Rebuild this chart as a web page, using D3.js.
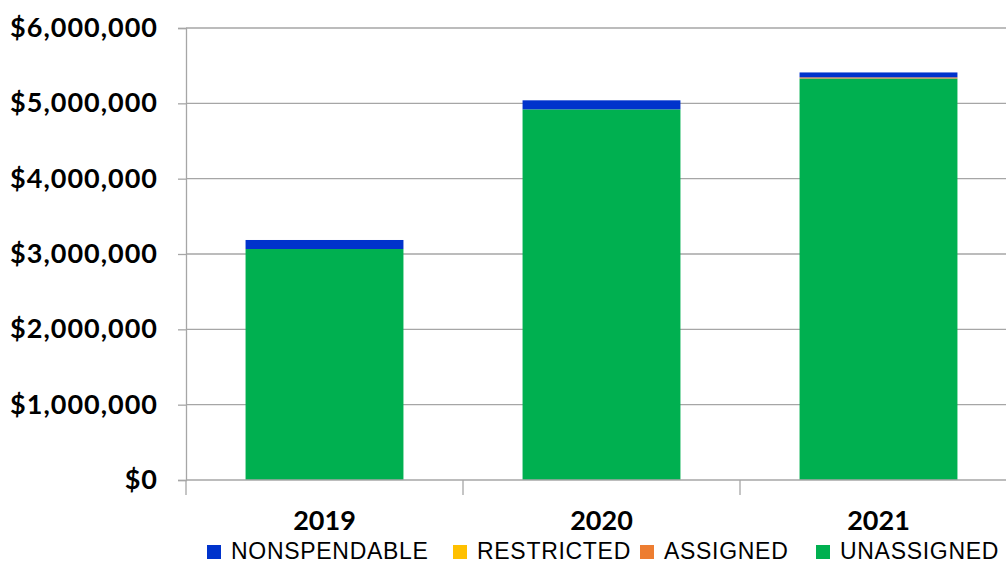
<!DOCTYPE html>
<html><head><meta charset="utf-8">
<script src="https://cdn.jsdelivr.net/npm/d3@7"></script>
<style>body{margin:0;background:#fff}svg{display:block}</style>
</head><body>
<svg id="c" width="1006" height="565"></svg>
<script>
const years = ["2019","2020","2021"];
const seriesNames = ["NONSPENDABLE","RESTRICTED","ASSIGNED","UNASSIGNED"];
const nonspendable = [120000, 120000, 65000];
const restricted = [0, 0, 0];
const assigned = [0, 0, 15000];
const unassigned = [3066000, 4920000, 5330000];
const colors = ["#0033CC","#FFC000","#ED7D31","#00B050"];
const yTicks = [0,1000000,2000000,3000000,4000000,5000000,6000000];

const svg = d3.select("#c");
const x0 = 186, x1 = 1017, yB = 480, yT = 28;
const x = d3.scaleBand().domain(years).range([x0,x1]).paddingInner(0.43).paddingOuter(0.215);
const y = d3.scaleLinear().domain([0,6000000]).range([yB,yT]);

// gridlines
svg.append("g").selectAll("line").data(yTicks.slice(1)).join("line")
  .attr("x1",x0).attr("x2",x1).attr("y1",d=>y(d)).attr("y2",d=>y(d))
  .attr("stroke","#A6A6A6").attr("stroke-width",1.3);

// stacked bars
const rows = years.map((yr,i)=>({year:yr, NONSPENDABLE:nonspendable[i], RESTRICTED:restricted[i], ASSIGNED:assigned[i], UNASSIGNED:unassigned[i]}));
const stack = d3.stack().keys(["UNASSIGNED","ASSIGNED","RESTRICTED","NONSPENDABLE"])(rows);
const colorOf = k => colors[seriesNames.indexOf(k)];
svg.append("g").selectAll("g").data(stack).join("g").attr("fill",s=>colorOf(s.key))
  .selectAll("rect").data(s=>s).join("rect")
  .attr("x",d=>x(d.data.year)).attr("width",x.bandwidth())
  .attr("y",d=>y(d[1])).attr("height",d=>Math.max(0,y(d[0])-y(d[1])));

// y axis
const yAxis = d3.axisLeft(y).tickValues(yTicks).tickSize(8).tickPadding(20)
  .tickFormat(d=>"$"+d3.format(",")(d));
const gy = svg.append("g").attr("transform",`translate(${x0},0)`).call(yAxis);
gy.select(".domain").attr("stroke","#A6A6A6").attr("stroke-width",1.3);
gy.selectAll(".tick line").attr("stroke","#A6A6A6").attr("stroke-width",1.3);
gy.selectAll(".tick text").attr("font-family","Lato, 'Open Sans', sans-serif").attr("font-weight","bold")
  .attr("font-size",27).attr("letter-spacing",1).attr("fill","#000");

// x axis
const gx = svg.append("g").attr("transform",`translate(0,${yB})`);
gx.append("line").attr("x1",x0).attr("x2",x1).attr("stroke","#A6A6A6").attr("stroke-width",1.3);
const bounds = d3.range(years.length+1).map(i=>x0+i*x.step());
gx.selectAll(".tk").data(bounds).join("line").attr("class","tk")
  .attr("x1",d=>d).attr("x2",d=>d).attr("y1",0).attr("y2",15)
  .attr("stroke","#A6A6A6").attr("stroke-width",1.3);
gx.selectAll("text").data(years).join("text")
  .attr("x",d=>x(d)+x.bandwidth()/2).attr("y",50).attr("text-anchor","middle")
  .attr("font-family","Lato, 'Open Sans', sans-serif").attr("font-weight","bold").attr("font-size",27).text(d=>d);

// legend
const legX = [207, 453, 640, 816];
const lg = svg.append("g").selectAll("g").data(seriesNames).join("g")
  .attr("transform",(d,i)=>`translate(${legX[i]},545)`);
lg.append("rect").attr("width",14).attr("height",14).attr("fill",(d,i)=>colors[i]);
lg.append("text").attr("x",24).attr("y",14).attr("font-family","'Liberation Sans', Arial, sans-serif")
  .attr("font-size",23).attr("letter-spacing",0.7).attr("fill","#000").text(d=>d);
</script>
</body></html>
